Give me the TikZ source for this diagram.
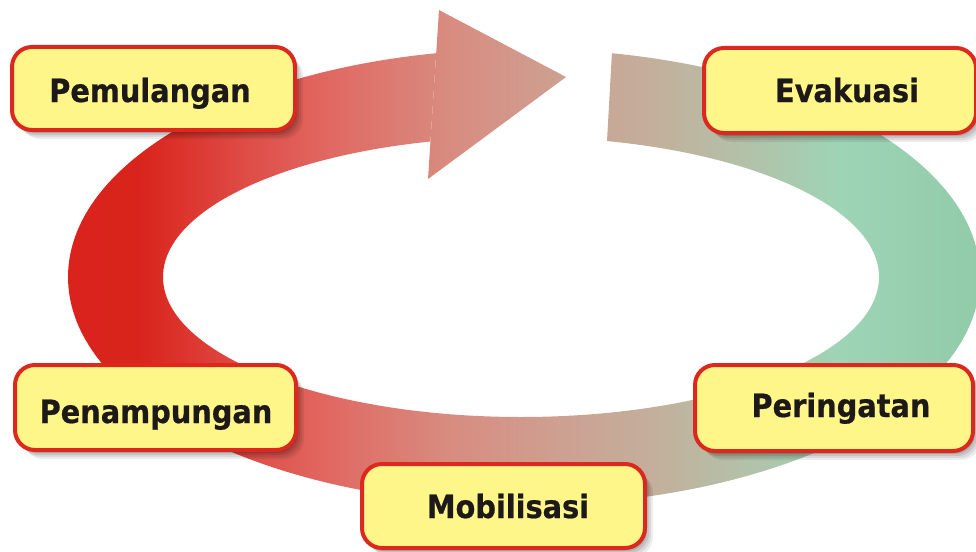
\documentclass[tikz,border=0pt]{standalone}
\usepackage{fontspec}
\newfontfamily\boxfont{DejaVu Sans Condensed Bold}[FakeBold=0.6]
\definecolor{rs1}{RGB}{217,35,28}
\definecolor{rs2}{RGB}{217,36,28}
\definecolor{rs3}{RGB}{223,78,72}
\definecolor{rs4}{RGB}{224,105,98}
\definecolor{rs5}{RGB}{216,140,128}
\definecolor{rs6}{RGB}{205,160,145}
\definecolor{rs7}{RGB}{195,175,155}
\definecolor{rs8}{RGB}{180,192,168}
\definecolor{rs9}{RGB}{158,212,182}
\definecolor{rs10}{RGB}{145,203,168}
\definecolor{boxred}{RGB}{220,40,30}
\definecolor{boxyellow}{RGB}{255,246,138}
\definecolor{txt}{RGB}{30,25,25}
\pgfdeclarehorizontalshading{ringshade}{100bp}{color(0bp)=(rs1); color(25bp)=(rs1); color(29.35bp)=(rs2); color(35.33bp)=(rs3); color(39.67bp)=(rs4); color(46.2bp)=(rs5); color(52.2bp)=(rs6); color(57.07bp)=(rs7); color(61.96bp)=(rs8); color(67.4bp)=(rs9); color(75bp)=(rs10); color(100bp)=(rs10)}
\tikzset{
  box/.style={draw=boxred, line width=4pt, fill=boxyellow, rounded corners=20pt,
    preaction={fill=black, opacity=0.07, transform canvas={xshift=8pt, yshift=-9pt}},
    preaction={fill=black, opacity=0.08, transform canvas={xshift=6pt, yshift=-7pt}},
    preaction={fill=black, opacity=0.10, transform canvas={xshift=4pt, yshift=-5pt}},
    preaction={fill=black, opacity=0.12, transform canvas={xshift=2pt, yshift=-3pt}}},
  lbl/.style={anchor=base, text=txt, font=\boxfont\fontsize{32}{38}\selectfont, inner sep=0pt}
}
\begin{document}
\begin{tikzpicture}[x=1pt,y=-1pt]
\useasboundingbox (0,0) rectangle (976,551);
% ring body
\begin{scope}[even odd rule]
  \clip (524,277) ellipse [x radius=456, y radius=228] (521,277) ellipse [x radius=358, y radius=140];
  \clip (0,0) -- (439.65,0) -- (426.6,200) -- (603.7,200) -- (614.9,0) -- (990,0) -- (990,560) -- (0,560) -- cycle;
  \shade[shading=ringshade] (60,0) rectangle (980,560);
\end{scope}
% arrow head
\begin{scope}
  \clip (439,10) -- (566,77) -- (428,179) -- cycle;
  \shade[shading=ringshade] (60,0) rectangle (980,560);
\end{scope}
% boxes
\node[box, minimum width=283pt, minimum height=83pt] (pem) at (153.5,88.5) {};
\node[box, minimum width=272pt, minimum height=85pt] (eva) at (840,90.5) {};
\node[box, minimum width=281pt, minimum height=85pt] (pen) at (155.5,407.5) {};
\node[box, minimum width=283pt, minimum height=84pt] (mob) at (503.5,506) {};
\node[box, minimum width=278pt, minimum height=86pt] (per) at (834,408) {};
% labels
\node[lbl] (tpem) at (150,102) {Pemulangan};
\node[lbl] (teva) at (847,102) {Evakuasi};
\node[lbl] (tpen) at (156,423) {Penampungan};
\node[lbl] (tmob) at (508,518) {Mobilisasi};
\node[lbl] (tper) at (841,417) {Peringatan};
\end{tikzpicture}
\end{document}
